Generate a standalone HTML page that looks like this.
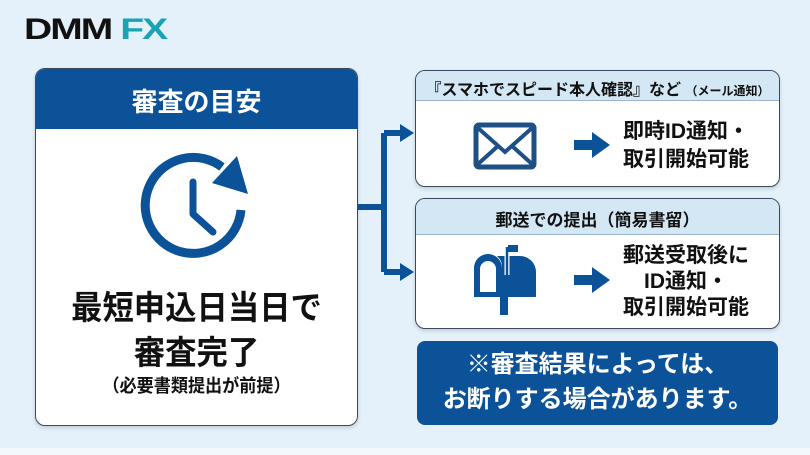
<!DOCTYPE html>
<html><head><meta charset="utf-8"><style>
*{margin:0;padding:0;box-sizing:border-box}
body{width:810px;height:455px;overflow:hidden;background:#e4f1fa;font-family:"Liberation Sans","Noto Sans CJK JP",sans-serif;position:relative}
.a{position:absolute}
.t{position:absolute;text-align:center;font-weight:bold;white-space:nowrap}
.card{position:absolute;background:#fff;border:1.5px solid #3a4a5c;border-radius:10px;overflow:hidden;box-shadow:0 2px 4px rgba(0,0,0,.15)}
</style></head><body>
<div class="a" style="left:0;top:448px;width:810px;height:7px;background:#f3f8fc"></div>
<div class="t" style="left:24px;top:13px;font-size:30px;font-family:'Liberation Sans',sans-serif;letter-spacing:-1.5px;font-weight:900;transform:scaleX(1.3);transform-origin:left"><span style="color:#111">DMM</span> <span style="color:#1aa3b5">FX</span></div>

<div class="card" style="left:35px;top:68px;width:323px;height:358px">
 <div class="a" style="left:0;top:0;width:100%;height:60px;background:#0b5299"></div>
 <div class="t" style="left:0;top:13px;width:100%;color:#fff;font-size:26px">審査の目安</div>
 <div class="t" style="left:0;top:212px;width:100%;color:#111;font-size:33px;transform:scaleX(.95)">最短申込日当日で</div>
 <div class="t" style="left:0;top:257px;width:100%;color:#111;font-size:33px;transform:scaleX(.95)">審査完了</div>
 <div class="t" style="left:0;top:303px;width:100%;color:#111;font-size:18px;transform:scaleX(.95)">（必要書類提出が前提）</div>
</div>
<svg class="a" style="left:0;top:0" width="810" height="455">
 <path d="M241 210 A48 48 0 1 1 222 167" fill="none" stroke="#0b5299" stroke-width="9"/>
 <polygon points="237,156 212,183 248,194" fill="#0b5299"/>
 <path d="M193 182 L193 214 L213 232" fill="none" stroke="#0b5299" stroke-width="7" stroke-linecap="round" stroke-linejoin="round"/>
 <path d="M358 207 H384 M384 133 V272 M384 133 H402 M384 272 H402" stroke="#0b5299" stroke-width="6" fill="none"/>
 <polygon points="400,124 414,133 400,142" fill="#0b5299"/>
 <polygon points="400,263 414,272 400,281" fill="#0b5299"/>
</svg>

<div class="card" style="left:415px;top:70px;width:365px;height:117px">
 <div class="a" style="left:0;top:0;width:100%;height:30px;background:#d4e7f5;border-bottom:1px solid #9bb5cc"></div>
 <div class="t" style="left:0;top:5px;width:100%;color:#111;font-size:16px">『スマホでスピード本人確認』など <span style="font-size:12px">（メール通知）</span></div>
 <div class="t" style="left:190px;top:47px;width:160px;color:#111;font-size:21px;line-height:28px">即時ID通知・<br>取引開始可能</div>
</div>
<div class="card" style="left:415px;top:198px;width:365px;height:131px">
 <div class="a" style="left:0;top:0;width:100%;height:36px;background:#d4e7f5;border-bottom:1px solid #9bb5cc"></div>
 <div class="t" style="left:0;top:7px;width:100%;color:#111;font-size:17px">郵送での提出（簡易書留）</div>
 <div class="t" style="left:190px;top:44px;width:160px;color:#111;font-size:21px;line-height:26px">郵送受取後に<br>ID通知・<br>取引開始可能</div>
</div>
<svg class="a" style="left:0;top:0" width="810" height="455">
 <rect x="476" y="125" width="58" height="42" rx="3" fill="none" stroke="#1e4f85" stroke-width="5"/>
 <path d="M478 128 L505 152 L532 128 M478 164 L498 146 M532 164 L512 146" fill="none" stroke="#1e4f85" stroke-width="4"/>
 <path d="M574 140 H592 V132 L610 145 L592 158 V150 H574 Z" fill="#0b5299"/>
 <path d="M574 275 H592 V267 L610 280 L592 293 V285 H574 Z" fill="#0b5299"/>
 <path d="M474 297 V268 A14 14 0 0 1 502 268 V297 Z M480 292 H496 V269 A8 8 0 0 0 480 269 Z" fill="#0b5299" fill-rule="evenodd"/>
 <path d="M497 256 H520 A16 16 0 0 1 536 272 V297 H502 V268 A14 14 0 0 0 497 256 Z" fill="#0b5299"/>
 <rect x="500" y="297" width="8" height="18" fill="#0b5299"/>
 <path d="M507 247 V275" stroke="#fff" stroke-width="5"/>
 <path d="M507 247 V275" stroke="#0b5299" stroke-width="2.5"/>
 <rect x="508" y="245" width="10" height="7" fill="#0b5299"/>
</svg>
<div class="a" style="left:417px;top:341px;width:361px;height:84px;background:#0b5299;border-radius:8px"></div>
<div class="t" style="left:417px;top:347px;width:361px;color:#fff;font-size:24px;line-height:35px">※審査結果によっては、<br>お断りする場合があります。</div>
</body></html>
